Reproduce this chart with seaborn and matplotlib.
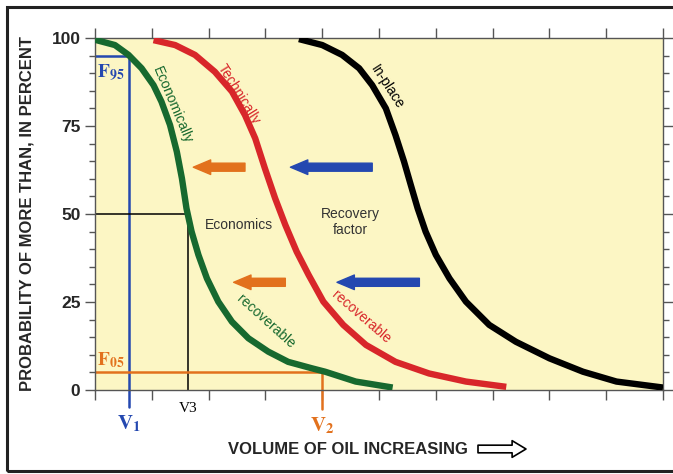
import matplotlib
matplotlib.use("Agg")
import matplotlib.pyplot as plt
from matplotlib.patches import Rectangle, FancyArrowPatch
import pandas as pd
import seaborn as sns

# curve points (volume units 0-10, probability %)
econ_x = [0.0, 0.35, 0.59, 0.82, 1.03, 1.17, 1.32, 1.44, 1.53, 1.61, 1.70, 1.82,
          1.97, 2.17, 2.41, 2.70, 3.05, 3.40, 3.81, 4.05, 4.59, 5.24]
econ_p = [99.5, 98, 95.2, 91.4, 86.6, 81.9, 75.3, 67.7, 60.1, 51.6, 45, 38.4,
          31.7, 25.1, 19.4, 14.7, 10.9, 8.0, 6.2, 5.2, 2.4, 0.7]
tech_x = [1.03, 1.41, 1.76, 2.11, 2.41, 2.64, 2.82, 2.99, 3.17, 3.35, 3.55, 3.76,
          4.02, 4.37, 4.77, 5.29, 5.88, 6.53, 7.24]
tech_p = [99.4, 98, 95.2, 90.4, 84.8, 78.1, 71.5, 63, 54.5, 46.9, 39.3, 32.7,
          25.1, 18.5, 12.8, 8.0, 4.7, 2.4, 0.9]
inpl_x = [3.59, 4.0, 4.35, 4.65, 4.88, 5.12, 5.29, 5.44, 5.56, 5.68, 5.82, 6.0,
          6.24, 6.53, 6.94, 7.41, 8.0, 8.59, 9.18, 10.0]
inpl_p = [99.7, 98, 95.2, 91.4, 86.6, 80, 72.4, 64.9, 58.2, 51.6, 45, 38.4,
          31.7, 25.1, 18.5, 13.7, 9.0, 5.2, 2.4, 0.7]

v1, v2, v3 = 0.6, 4.0, 1.64
f95, f05, f50 = 95, 5, 50

# arrows: (tail x, head x, y)
orange_arrows = [(2.64, 1.73, 63.3), (3.35, 2.44, 30.6)]
blue_arrows = [(4.88, 3.44, 63.3), (5.71, 4.26, 30.6)]

GREEN = "#17692f"
RED = "#d8262a"
BLUE = "#2448b0"
ORANGE = "#e2711d"
BG = "#fcf6c4"

sns.set_style("ticks")
plt.rcParams["font.family"] = ["Liberation Sans", "DejaVu Sans"]
plt.rcParams["mathtext.fontset"] = "stix"

fig = plt.figure(figsize=(6.73, 4.74), dpi=100)
ax = fig.add_axes([0.1412, 0.1772, 0.8440, 0.7426])
ax.set_facecolor(BG)

curves = pd.concat([
    pd.DataFrame({"x": econ_x, "p": econ_p, "curve": "econ"}),
    pd.DataFrame({"x": tech_x, "p": tech_p, "curve": "tech"}),
    pd.DataFrame({"x": inpl_x, "p": inpl_p, "curve": "inplace"}),
])
sns.lineplot(data=curves, x="x", y="p", hue="curve", sort=False,
             palette={"econ": GREEN, "tech": RED, "inplace": "black"},
             linewidth=4.6, legend=False, ax=ax, zorder=3,
             solid_capstyle="butt", solid_joinstyle="round")

# reference lines
ax.plot([0, v1], [f95, f95], color=BLUE, lw=1.8, zorder=2)
ax.plot([v1, v1], [f95, -4.8], color=BLUE, lw=1.8, zorder=2, clip_on=False)
ax.plot([0, v3], [f50, f50], color="black", lw=1.1, zorder=2)
ax.plot([v3, v3], [f50, 0], color="black", lw=1.1, zorder=2)
ax.plot([0, v2], [f05, f05], color=ORANGE, lw=1.8, zorder=2)
ax.plot([v2, v2], [f05, -5.5], color=ORANGE, lw=1.8, zorder=2, clip_on=False)

astyle = "simple,head_width=1.05,head_length=1.25,tail_width=0.58"
for tail, head, y in orange_arrows:
    ax.annotate("", xy=(head, y), xytext=(tail, y),
                arrowprops=dict(arrowstyle=astyle, color=ORANGE, shrinkA=0, shrinkB=0,
                                mutation_scale=10))
for tail, head, y in blue_arrows:
    ax.annotate("", xy=(head, y), xytext=(tail, y),
                arrowprops=dict(arrowstyle=astyle, color=BLUE, shrinkA=0, shrinkB=0,
                                mutation_scale=10))

lab = dict(ha="center", va="center", rotation_mode="anchor", fontsize=10)
ax.text(1.36, 81, "Economically", color=GREEN, rotation=-67, **lab)
ax.text(2.53, 84, "Technically", color=RED, rotation=-58, **lab)
ax.text(5.15, 86, "In-place", color="black", rotation=-57, **lab)
ax.text(3.0, 19.5, "recoverable", color=GREEN, rotation=-42, **lab)
ax.text(4.69, 20.7, "recoverable", color=RED, rotation=-41, **lab)
ax.text(2.54, 46.9, "Economics", color="#333333", ha="center", va="center", fontsize=10)
ax.text(4.49, 47.7, "Recovery\nfactor", color="#333333", ha="center", va="center",
        fontsize=10, linespacing=1.2)

serif = ["Liberation Serif", "DejaVu Serif"]
ax.text(0.03, 90, r"$\mathbf{F}_{\mathbf{95}}$", color=BLUE, fontsize=14, ha="left", va="center")
ax.text(0.03, 8.6, r"$\mathbf{F}_{\mathbf{05}}$", color=ORANGE, fontsize=14, ha="left", va="center")
ax.text(v1, -9.6, r"$\mathbf{V}_{\mathbf{1}}$", color=BLUE, fontsize=15, ha="center", va="center")
ax.text(v2, -10.2, r"$\mathbf{V}_{\mathbf{2}}$", color=ORANGE, fontsize=15, ha="center", va="center")
ax.text(v3, -5.2, "V3", color="black", fontsize=11, ha="center", va="center", family=serif)

ax.set_xlim(0, 10)
ax.set_ylim(0, 100)
ax.set_xticks(range(0, 11))
ax.set_xticklabels([])
ax.set_xlabel("")
ax.set_yticks([0, 25, 50, 75, 100])
ax.set_yticks(range(0, 101, 5), minor=True)
narrow = ["Liberation Sans Narrow", "Liberation Sans", "DejaVu Sans"]
ax.set_yticklabels(["0", "25", "50", "75", "100"], fontsize=12.5, fontweight="bold", family=narrow)
ax.tick_params(which="both", direction="out", top=True, right=True, color="#555555", width=1)
ax.tick_params(which="major", length=7)
ax.tick_params(which="minor", length=4)
for s in ax.spines.values():
    s.set_color("#555555")
    s.set_linewidth(1)

ax.set_ylabel("PROBABILITY OF MORE THAN, IN PERCENT", fontsize=12, fontweight="bold",
              family=narrow, labelpad=12)
fig.text(228 / 673, 1 - 449 / 474, "VOLUME OF OIL INCREASING", fontsize=12,
         fontweight="bold", family=narrow, ha="left", va="center")
fig.patches.append(FancyArrowPatch((478, 474 - 449), (526, 474 - 449),
                                   transform=None, arrowstyle="simple,head_width=1.2,head_length=1.0,tail_width=0.55",
                                   mutation_scale=10, facecolor="white", edgecolor="black",
                                   lw=1.2, shrinkA=0, shrinkB=0))

fig.patches.append(Rectangle((0.0104, 0.0063), 1.2, 0.979, transform=fig.transFigure,
                             fill=False, edgecolor="#222222", lw=2.2))

fig.savefig("out.png", dpi=100)
